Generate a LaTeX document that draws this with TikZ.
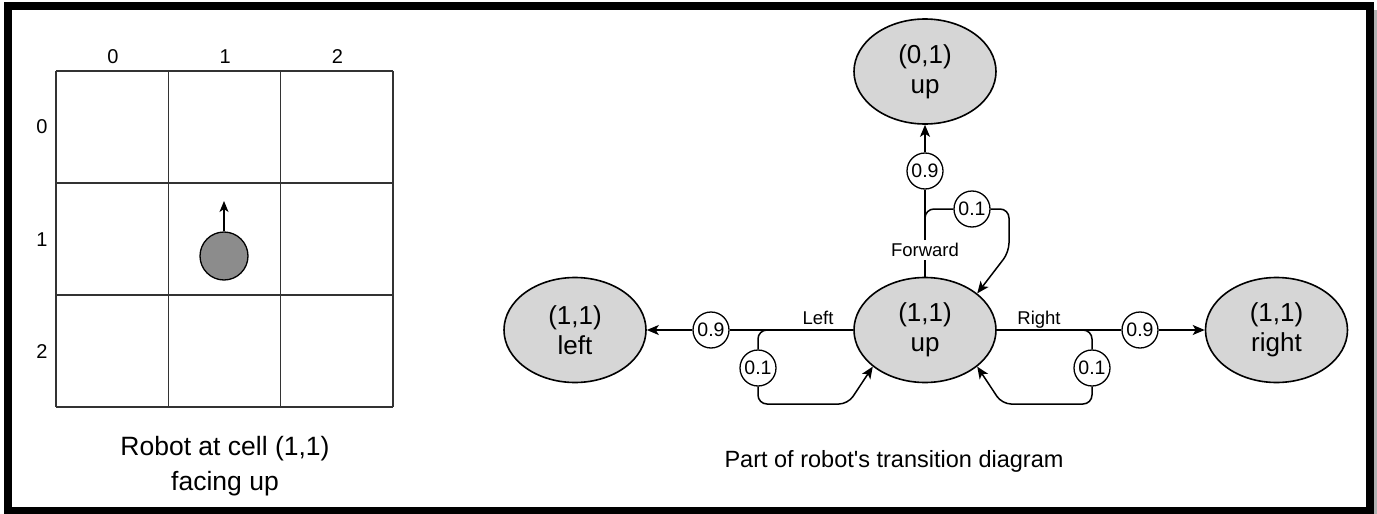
\documentclass[tikz,border=0pt]{standalone}
\usepackage{fontspec}
\setmainfont{Liberation Sans}
\usetikzlibrary{shapes.geometric,arrows.meta}

\definecolor{botgray}{RGB}{140,140,140}
\definecolor{stategray}{RGB}{214,214,214}

\begin{document}
\begin{tikzpicture}[x=1pt,y=-1pt,
        >={Stealth[length=12pt,width=10pt,inset=3pt]},
        conn/.style={line width=1.5pt},
        gridline/.style={line width=1.5pt,black!80},
        numlbl/.style={font=\fontsize{20}{24}\selectfont},
        cellstate/.style={ellipse,draw,line width=1.6pt,fill=stategray,minimum width=142pt,minimum height=105pt,
            inner sep=0pt,align=center,font=\fontsize{26}{30}\selectfont,
            execute at begin node={\rule{0pt}{27pt}}},
        prob/.style={circle,draw,line width=1.3pt,fill=white,minimum size=36pt,inner sep=0pt,font=\fontsize{19.5}{23}\selectfont},
        act/.style={font=\fontsize{18.5}{22}\selectfont,inner sep=3pt}]
        \useasboundingbox (0,0) rectangle (1377,514);
        \fill[gray!60] (1374,10) rectangle (1377,514);
        \draw[line width=8pt] (8,5.5) rectangle (1370,510.5);

        % the 3x3 world
        \foreach \i in {0,1,2,3}
        {
            \draw[gridline] ({56+112.3*\i},71) -- ({56+112.3*\i},407);
            \draw[gridline] (56,{71+112*\i}) -- (393,{71+112*\i});
        }
        \foreach \i in {0,1,2}
        {
            \node[numlbl] (col\i) at ({113+112.2*\i},57) {\i};
            \node[numlbl] (row\i) at (42,{127+112.5*\i}) {\i};
        }
        \node[draw,circle,line width=1.3pt,fill=botgray,minimum size=48pt,inner sep=0pt] (bot) at (224,256) {};
        \coordinate (heading) at (224,201);
        \draw[conn,-{Stealth[length=11pt,width=9pt,inset=3pt]}] (bot) -- (heading);
        \node[align=center,font=\fontsize{26.5}{35}\selectfont] (capgrid) at (225,466) {Robot at cell (1,1)\\facing up};

        % states
        \node[cellstate] (up01) at (925,71.5) {(0,1)\\up};
        \node[cellstate] (up11) at (925,330) {(1,1)\\up};
        \node[cellstate] (left11) at (575,330) {(1,1)\\left};
        \node[cellstate] (right11) at (1276.5,330) {(1,1)\\right};

        % actions and their outcomes
        \node[prob] (pfwd) at (925,171) {0.9};
        \node[prob] (ploopF) at (972,209) {0.1};
        \node[act,fill=white] (lblfwd) at (925,250) {Forward};
        \node[prob] (pleft) at (711,330) {0.9};
        \node[prob] (ploopL) at (758,368) {0.1};
        \node[act] (lblleft) at (818,318) {Left};
        \node[prob] (pright) at (1140,330) {0.9};
        \node[prob] (ploopR) at (1092,368) {0.1};
        \node[act] (lblright) at (1039,320) {Right};

        \draw[conn] (up11) -- (lblfwd);
        \draw[conn] (lblfwd) -- (pfwd);
        \draw[conn,->] (pfwd) -- (up01);
        \coordinate (splitF) at (925,219);
        \draw[conn,rounded corners=9pt] (splitF) |- (ploopF);
        \draw[conn,->,rounded corners=9pt] (ploopF) -| (1009,252) -- (up11.35);

        \draw[conn] (up11) -- (pleft);
        \draw[conn,->] (pleft) -- (left11);
        \coordinate (splitL) at (772,330);
        \draw[conn,rounded corners=9pt] (splitL) -| (ploopL);
        \draw[conn,->,rounded corners=9pt] (ploopL) |- (848,404) -- (up11.215);

        \draw[conn] (up11) -- (pright);
        \draw[conn,->] (pright) -- (right11);
        \coordinate (splitR) at (1078,330);
        \draw[conn,rounded corners=9pt] (splitR) -| (ploopR);
        \draw[conn,->,rounded corners=9pt] (ploopR) |- (1002,404) -- (up11.325);

        \node[font=\fontsize{23.5}{28}\selectfont] (capdiag) at (894,461) {Part of robot\textquotesingle s transition diagram};
\end{tikzpicture}
\end{document}
